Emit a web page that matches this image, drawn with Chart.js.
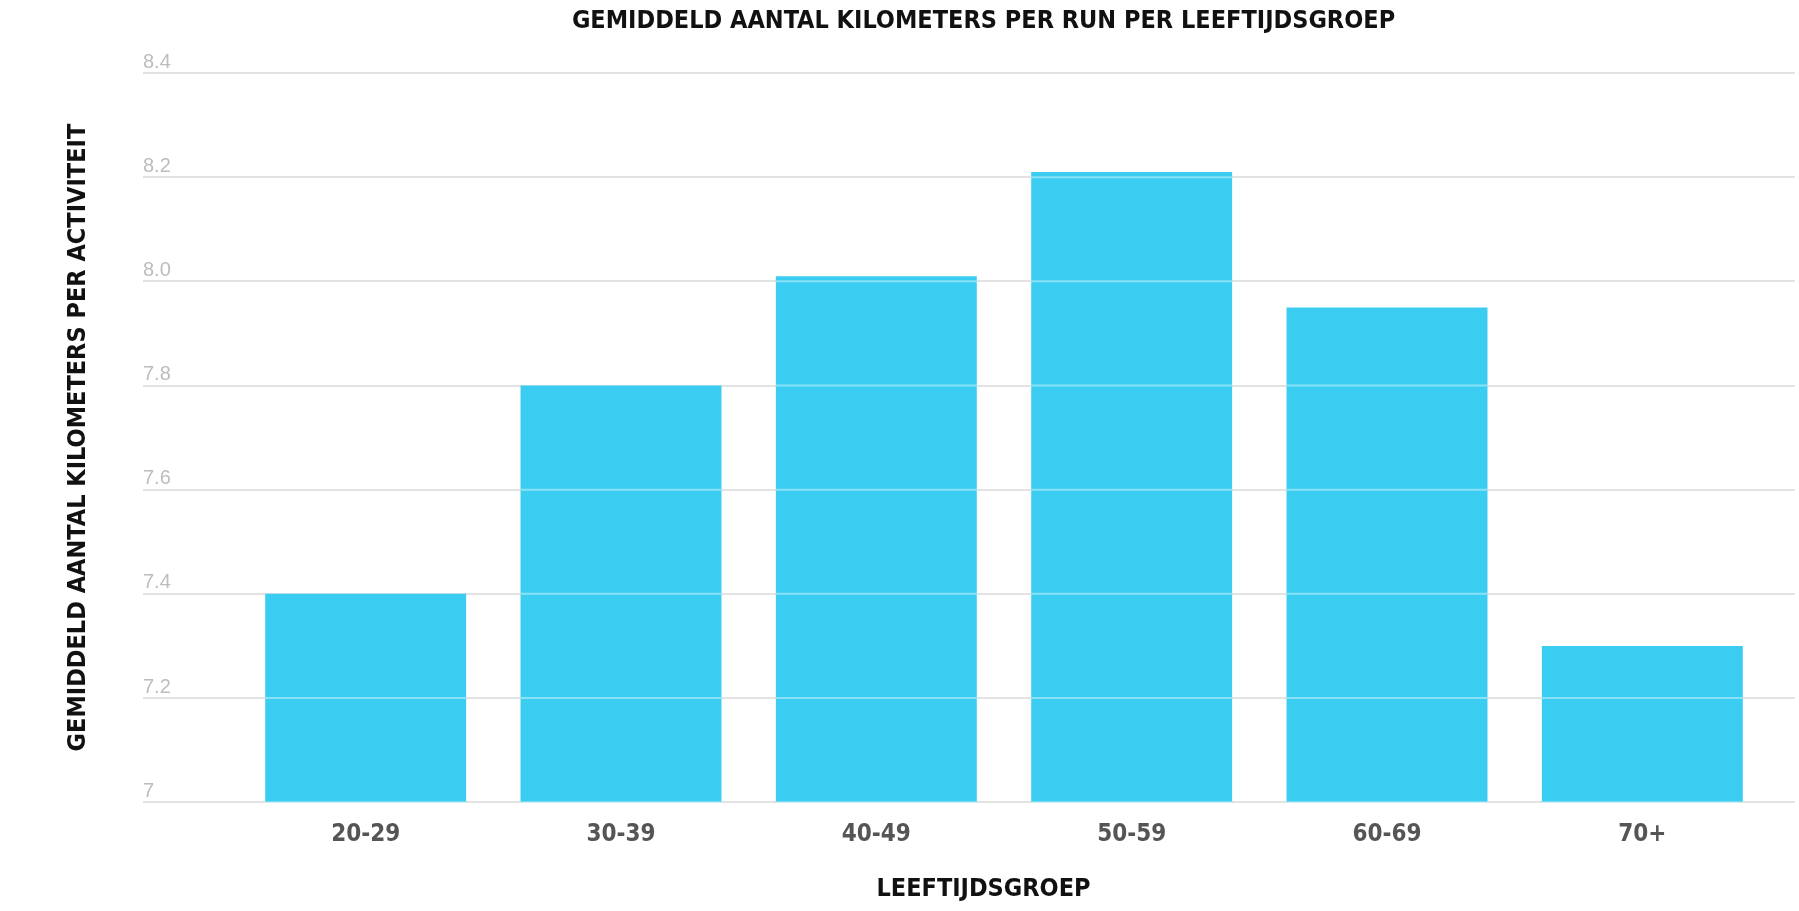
<!DOCTYPE html>
<html>
<head>
<meta charset="utf-8">
<title>Gemiddeld aantal kilometers per run per leeftijdsgroep</title>
<script src="https://cdn.jsdelivr.net/npm/chart.js@4.4.1/dist/chart.umd.min.js"></script>
<style>
    html, body { margin: 0; padding: 0; background: #fff; }
    #wrap { width: 1799px; height: 911px; position: relative; }
</style>
</head>
<body>
<div id="wrap"><canvas id="runChart"></canvas></div>
<script>
const ageGroups = ["20-29", "30-39", "40-49", "50-59", "60-69", "70+"];
const kmPerRun = [7.40, 7.80, 8.01, 8.21, 7.95, 7.30];
const yTickLabels = ["7", "7.2", "7.4", "7.6", "7.8", "8.0", "8.2", "8.4"];

// no narrow web font here, so ask for the condensed face of DejaVu
const narrow = '"DejaVu Sans", sans-serif';
const narrowBold = "bold condensed";
const gridColor = "#e2e2e2";

// light lines where the grid runs across the bars
const gridOverBars = {
    id: "gridOverBars",
    afterDatasetsDraw(chart) {
        const ctx = chart.ctx;
        const y = chart.scales.y;
        const bars = chart.getDatasetMeta(0).data;
        ctx.save();
        ctx.strokeStyle = "rgba(255,255,255,0.4)";
        ctx.lineWidth = 2;
        y.ticks.forEach(t => {
            const py = y.getPixelForValue(t.value);
            bars.forEach(b => {
                if (py <= b.y || py >= b.base - 2) return;
                ctx.beginPath();
                ctx.moveTo(b.x - b.width / 2, py);
                ctx.lineTo(b.x + b.width / 2, py);
                ctx.stroke();
            });
        });
        ctx.restore();
    }
};

const ctx = document.getElementById("runChart").getContext("2d");
new Chart(ctx, {
    type: "bar",
    data: {
        labels: ageGroups,
        datasets: [{
            data: kmPerRun,
            backgroundColor: "#3bcdf1",
            borderWidth: 0,
            categoryPercentage: 1,
            barPercentage: 0.787
        }]
    },
    options: {
        responsive: true,
        maintainAspectRatio: false,
        animation: false,
        layout: { padding: { left: 168, right: 0, top: 0, bottom: 0 } },
        plugins: {
            legend: { display: false },
            tooltip: { enabled: false },
            title: {
                display: true,
                text: "GEMIDDELD AANTAL KILOMETERS PER RUN PER LEEFTIJDSGROEP",
                color: "#111",
                font: { family: narrow, size: 25, weight: narrowBold },
                padding: { top: 6, bottom: 37 }
            },
            // x axis title, centred like the main title
            subtitle: {
                display: true,
                position: "bottom",
                text: "LEEFTIJDSGROEP",
                color: "#111",
                font: { family: narrow, size: 25, weight: narrowBold },
                padding: { top: 7, bottom: 7 }
            }
        },
        scales: {
            x: {
                grid: { display: false, drawTicks: false },
                border: { display: false },
                ticks: {
                    color: "#555",
                    padding: 18,
                    font: { family: narrow, size: 24, weight: narrowBold }
                }
            },
            y: {
                min: 7,
                max: 8.4,
                grid: { color: gridColor, lineWidth: 2, tickLength: 95 },
                border: { display: false },
                ticks: {
                    stepSize: 0.2,
                    mirror: true,
                    padding: -95,
                    labelOffset: -11,
                    color: "#bdbdbd",
                    font: { family: '"Liberation Sans", Arial, sans-serif', size: 20 },
                    callback: (v, i) => yTickLabels[i]
                },
                title: {
                    display: true,
                    text: "GEMIDDELD AANTAL KILOMETERS PER ACTIVITEIT",
                    color: "#111",
                    font: { family: narrow, size: 25, weight: narrowBold },
                    padding: { top: -105, bottom: 0 }
                },
                afterFit: scale => { scale.width = 70; }
            },
            y2: {
                position: "right",
                min: 7,
                max: 8.4,
                grid: { color: gridColor, lineWidth: 2, tickLength: 25, drawOnChartArea: false },
                border: { display: false },
                ticks: { stepSize: 0.2, display: false },
                afterFit: scale => { scale.width = 29; }
            }
        }
    },
    plugins: [gridOverBars]
});
</script>
</body>
</html>
